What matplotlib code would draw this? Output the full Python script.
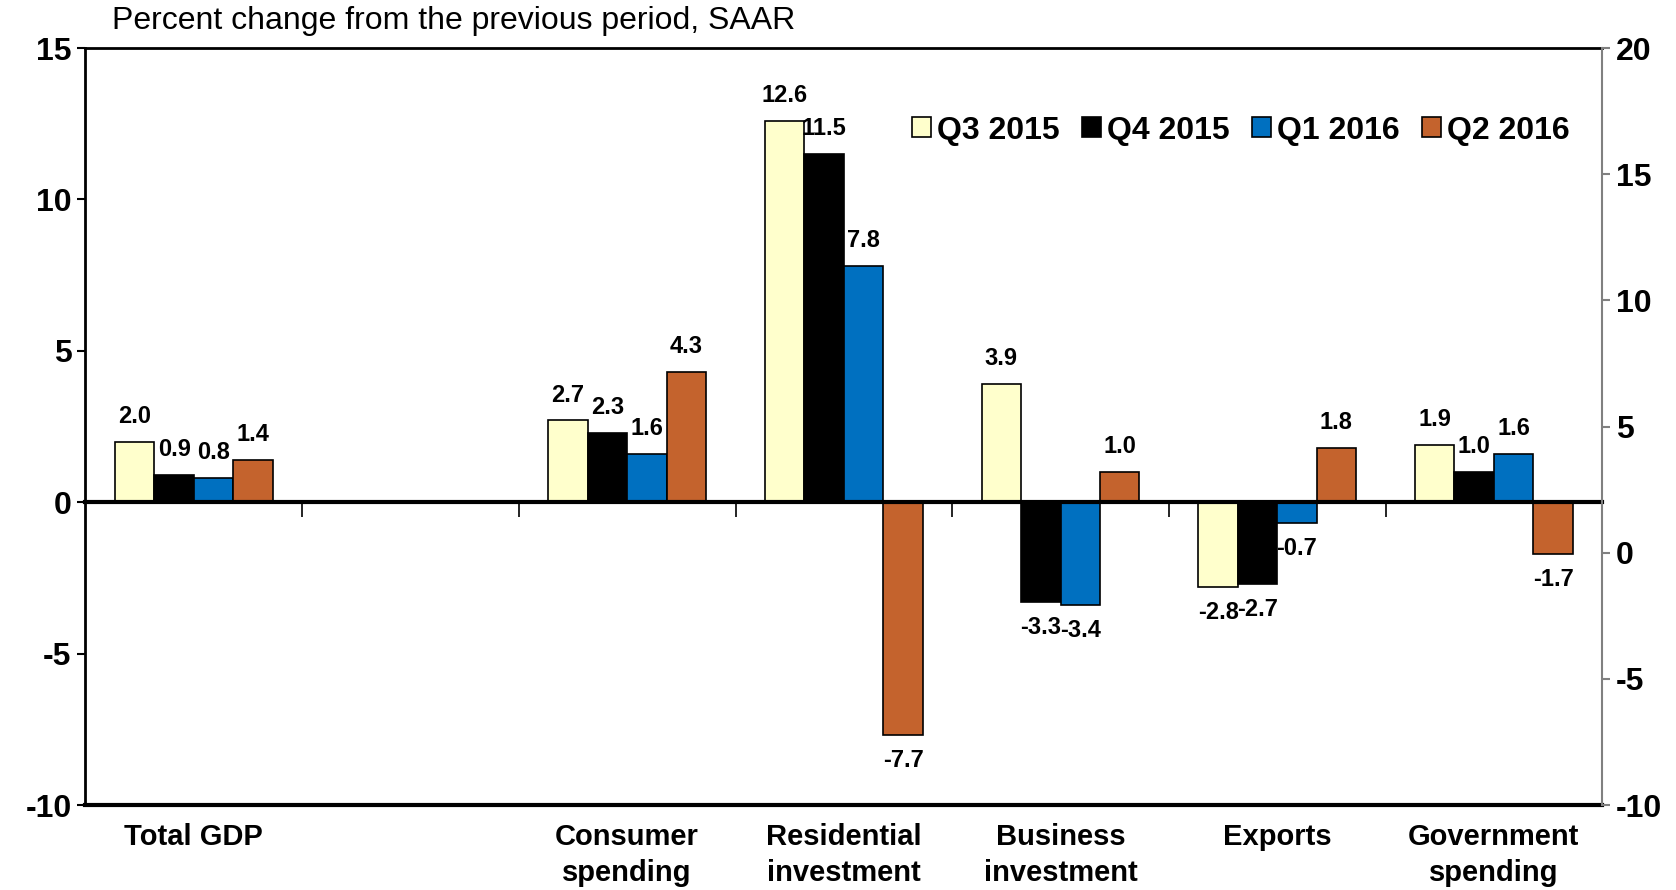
import numpy as np
import matplotlib
matplotlib.use("Agg")
import matplotlib.pyplot as plt

plt.rcParams['font.family'] = ['Liberation Sans', 'DejaVu Sans']
plt.rcParams['axes.unicode_minus'] = False

categories = ["Total GDP", "", "Consumer\nspending", "Residential\ninvestment",
              "Business\ninvestment", "Exports", "Government\nspending"]
series_names = ["Q3 2015", "Q4 2015", "Q1 2016", "Q2 2016"]
q3_2015 = [2.0, np.nan, 2.7, 12.6, 3.9, -2.8, 1.9]
q4_2015 = [0.9, np.nan, 2.3, 11.5, -3.3, -2.7, 1.0]
q1_2016 = [0.8, np.nan, 1.6, 7.8, -3.4, -0.7, 1.6]
q2_2016 = [1.4, np.nan, 4.3, -7.7, 1.0, 1.8, -1.7]
colors = ["#FFFFCC", "#000000", "#0070C0", "#C4632D"]

fig = plt.figure(figsize=(16.76, 8.9), dpi=100)
ax = fig.add_axes([0.051, 0.0955, 0.905, 0.8505])

x = np.arange(len(categories))
w = 0.182
all_series = [q3_2015, q4_2015, q1_2016, q2_2016]
for k, (vals, name, col) in enumerate(zip(all_series, series_names, colors)):
    vals = np.array(vals, dtype=float)
    bars = ax.bar(x + (k - 1.5) * w, np.nan_to_num(vals), w, color=col,
                  edgecolor="black", linewidth=1.2, label=name, zorder=2)
    labels = ["" if np.isnan(v) else f"{v:.1f}" for v in vals]
    ax.bar_label(bars, labels=labels, padding=10, fontsize=17, fontweight="bold")

ax.set_xlim(-0.5, len(categories) - 0.5)
ax.set_ylim(-10, 15)
ax.set_yticks(np.arange(-10, 16, 5))
ax.tick_params(axis="y", direction="out", length=6, width=1.5, labelsize=23, pad=4)
for t in ax.get_yticklabels():
    t.set_fontweight("bold")

# category ticks on the zero line, labels down below the frame
ax.spines['bottom'].set_position(('data', 0))
ax.spines['bottom'].set_linewidth(3)
ax.set_xticks(x)
ax.set_xticklabels(categories, fontsize=21, fontweight="bold", linespacing=1.35)
ax.set_xticks(np.arange(0.5, len(categories), 1), minor=True)
ax.tick_params(axis="x", which="major", length=0, pad=231)
ax.tick_params(axis="x", which="minor", length=11, width=1.2, direction="out")
ax.axhline(-10, color="black", linewidth=3, clip_on=False, zorder=3)

ax.spines['left'].set_linewidth(2)
ax.spines['top'].set_linewidth(2)
ax.spines['right'].set_visible(False)

ax2 = ax.twinx()
ax2.set_ylim(-10, 20)
ax2.set_yticks(np.arange(-10, 21, 5))
for s in ['left', 'top', 'bottom']:
    ax2.spines[s].set_visible(False)
ax2.spines['right'].set_color("#808080")
ax2.spines['right'].set_linewidth(1.5)
ax2.tick_params(axis="y", direction="out", length=6, width=1.5, color="#808080",
                labelsize=23, pad=4)
for t in ax2.get_yticklabels():
    t.set_fontweight("bold")

ax.legend(loc="center right", bbox_to_anchor=(0.987, 0.891), ncol=4, frameon=False,
          prop={"size": 23, "weight": "bold"}, handlelength=0.6, handleheight=0.6,
          handletextpad=0.2, columnspacing=0.68, borderaxespad=0)

fig.text(0.067, 1 - 6 / 890, "Percent change from the previous period, SAAR",
         fontsize=23, va="top", ha="left")

fig.savefig("out.png", dpi=100)
